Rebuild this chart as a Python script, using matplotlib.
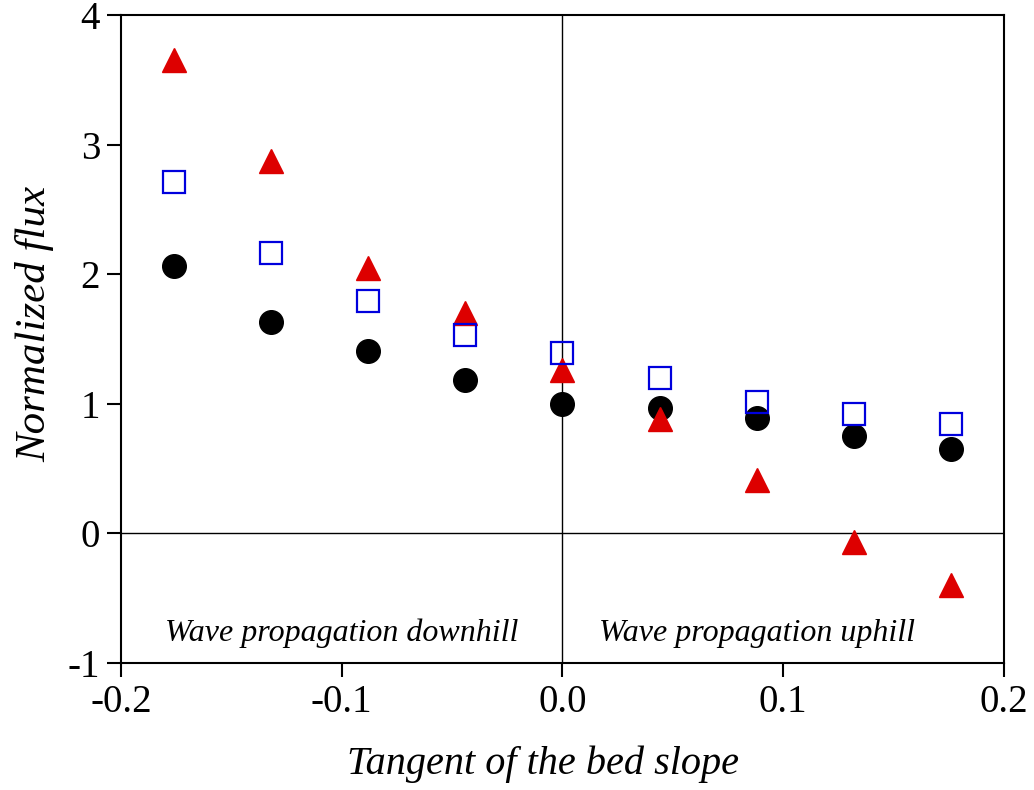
import numpy as np
import matplotlib.pyplot as plt

plt.rcParams['font.family'] = ['Liberation Serif', 'DejaVu Serif']

# tangent of the bed slope (2.5 degree steps)
pente = [-0.176, -0.132, -0.088, -0.044, 0.0, 0.044, 0.088, 0.132, 0.176]
flux_cercles = [2.06, 1.63, 1.41, 1.18, 1.00, 0.97, 0.89, 0.75, 0.65]
flux_carres = [2.71, 2.16, 1.79, 1.53, 1.39, 1.20, 1.01, 0.92, 0.84]
flux_triangles = [3.65, 2.87, 2.05, 1.70, 1.26, 0.88, 0.41, -0.07, -0.40]

xticks = [-0.2, -0.1, 0.0, 0.1, 0.2]
yticks = [-1, 0, 1, 2, 3, 4]

fig = plt.figure(figsize=(10.34, 7.90), dpi=100)
ax = fig.add_axes([0.117, 0.161, 0.854, 0.820])

ax.axhline(0, color='black', lw=1.0, zorder=1)
ax.axvline(0, color='black', lw=1.0, zorder=1)

ax.plot(pente, flux_cercles, 'o', color='black', ms=17, zorder=3)
ax.plot(pente, flux_triangles, '^', color='#DD0000', ms=17, zorder=4)
ax.plot(pente, flux_carres, 's', mfc='none', mec='#0000DD', mew=1.6, ms=16, zorder=5)

ax.text(-0.1, -0.77, "Wave propagation downhill", ha='center', va='center',
        style='italic', fontsize=23)
ax.text(0.088, -0.77, "Wave propagation uphill", ha='center', va='center',
        style='italic', fontsize=23)

ax.set_xlim(-0.2, 0.2)
ax.set_ylim(-1, 4)
ax.set_xticks(xticks)
ax.set_xticklabels(['%.1f' % v for v in xticks])
ax.set_yticks(yticks)
ax.set_yticklabels([str(v) for v in yticks])
ax.tick_params(direction='out', length=10, width=1.5, labelsize=28, pad=5)

for s in ax.spines.values():
    s.set_linewidth(1.5)

ax.set_xlabel("Tangent of the bed slope", style='italic', fontsize=29)
ax.set_ylabel("Normalized flux", style='italic', fontsize=31)
ax.xaxis.set_label_coords(0.478, -0.127)
ax.yaxis.set_label_coords(-0.075, 0.523)

fig.savefig('out.png', dpi=100)
